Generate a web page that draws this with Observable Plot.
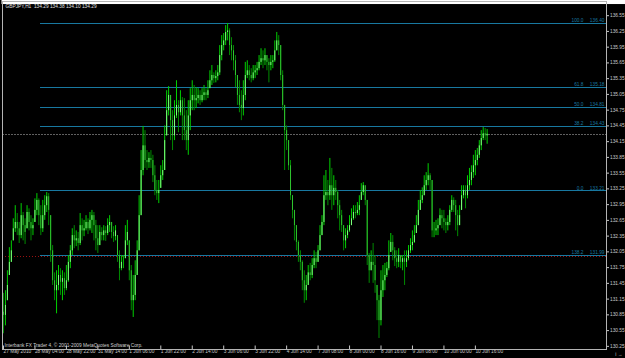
<!DOCTYPE html>
<html><head><meta charset="utf-8">
<script src="https://cdn.jsdelivr.net/npm/d3@7"></script>
<script src="https://cdn.jsdelivr.net/npm/@observablehq/plot@0.6"></script>
<style>
html,body{margin:0;padding:0;background:#000;}
#chart svg{display:block;}
</style>
</head><body><div id="chart"></div>
<script>
const symbolHeader = "GBPJPY,H1  134.29 134.38 134.10 134.29";
const copyright = "Interbank FX Trader 4, \u00a9 2001-2009 MetaQuotes Software Corp.";
const firstOpen = 130.90;
const closes = [
130.84,131.03,131.41,131.85,132.07,132.49,132.61,132.49,132.36,132.74,
132.55,132.42,132.80,132.61,132.49,132.55,132.84,133.03,132.74,132.49,
132.74,132.93,133.10,132.84,132.07,131.50,131.31,131.41,131.60,131.47,
131.54,131.35,131.50,131.85,132.07,132.36,132.26,132.30,132.21,132.55,
132.45,132.49,132.61,132.49,132.65,132.74,132.55,132.30,132.17,132.42,
132.36,132.45,132.40,132.55,132.61,132.42,132.34,132.45,131.98,131.73,
131.85,131.85,132.26,132.42,131.69,131.12,131.22,131.60,132.07,132.74,
133.60,134.07,133.79,133.75,133.83,133.79,133.50,133.22,133.16,133.22,
133.50,133.60,134.17,134.74,135.03,134.55,134.26,134.64,134.84,134.70,
134.93,134.64,134.36,134.17,134.64,134.93,135.03,134.93,134.97,135.03,
134.93,135.03,135.08,135.03,135.12,135.31,135.41,135.35,135.39,135.46,
135.79,135.98,136.07,136.23,136.26,135.98,135.88,135.69,135.41,135.03,
134.84,134.78,135.03,135.41,135.50,135.41,135.35,135.46,135.50,135.54,
135.66,135.73,135.69,135.79,135.66,135.60,135.66,135.69,135.88,136.07,
135.98,135.41,134.84,134.36,134.17,133.69,133.12,132.84,132.55,132.23,
131.98,131.85,131.50,131.31,131.41,131.65,131.60,131.79,131.92,131.85,
132.07,132.36,132.61,133.12,133.18,133.12,133.31,133.12,133.26,133.18,
132.93,132.74,132.55,132.26,132.36,132.45,132.55,132.68,132.80,132.78,
132.84,132.93,133.18,133.31,133.03,131.98,131.69,131.85,131.79,131.50,
131.12,130.74,131.31,131.50,131.60,131.73,131.98,132.23,132.07,131.92,
131.85,131.98,131.85,131.92,131.85,131.92,132.07,132.17,132.23,132.36,
132.55,132.84,133.03,133.12,133.31,133.41,133.50,133.41,132.45,132.45,
132.49,132.55,132.74,132.68,132.61,132.55,132.61,132.84,133.03,132.93,
132.74,132.55,132.74,133.12,133.22,133.12,133.31,133.41,133.56,133.69,
133.79,133.89,134.07,134.21,134.30,134.26,134.29];
const highs = [
131.26,131.31,131.69,132.13,132.26,132.68,132.93,132.78,132.61,132.97,
132.80,132.68,132.93,132.87,132.74,132.68,133.06,133.16,133.06,132.93,
133.03,133.12,133.18,133.16,132.74,132.17,131.65,131.69,131.79,131.73,
131.69,131.65,131.79,131.98,132.17,132.49,132.55,132.45,132.42,132.78,
132.68,132.65,132.74,132.68,132.80,132.84,132.80,132.65,132.55,132.55,
132.51,132.55,132.53,132.68,132.74,132.61,132.53,132.55,132.36,132.07,
131.98,131.98,132.55,132.65,132.26,131.79,131.60,131.88,132.26,133.12,
133.98,134.44,134.36,133.98,133.94,133.98,133.89,133.69,133.41,133.41,
133.69,133.79,134.45,135.12,135.20,135.03,134.74,134.93,135.31,134.93,
135.12,134.99,134.97,134.74,134.93,135.16,135.31,135.22,135.18,135.16,
135.12,135.16,135.22,135.16,135.31,135.50,135.60,135.46,135.50,135.60,
135.98,136.17,136.21,136.36,136.40,136.30,136.13,135.98,135.79,135.41,
135.31,135.12,135.31,135.66,135.69,135.60,135.54,135.60,135.60,135.66,
135.79,135.92,135.88,135.92,135.79,135.73,135.79,135.79,136.07,136.23,
136.17,135.98,135.50,134.84,134.45,134.17,133.79,133.12,132.84,132.55,
132.26,132.07,131.88,131.69,131.60,131.79,131.83,131.92,132.07,132.04,
132.17,132.55,132.74,133.50,133.60,133.41,133.83,133.64,133.50,133.41,
133.22,133.03,132.84,132.55,132.49,132.55,132.74,132.87,132.93,132.93,
132.99,133.12,133.35,133.37,133.31,133.03,132.02,132.07,132.21,131.98,
131.41,131.22,131.69,131.79,131.83,131.85,132.26,132.40,132.36,132.13,
132.07,132.11,131.98,131.98,132.07,132.07,132.17,132.30,132.45,132.55,
132.74,133.03,133.22,133.27,133.50,133.56,133.73,133.54,133.41,132.61,
132.65,132.68,132.87,132.84,132.84,132.68,132.74,132.93,133.12,133.08,
133.03,132.84,132.93,133.31,133.31,133.31,133.50,133.64,133.69,133.89,
133.98,134.02,134.17,134.36,134.42,134.40,134.38];
const lows = [
130.49,130.64,131.12,131.60,131.85,132.26,132.42,132.36,132.21,132.30,
132.26,132.19,132.49,132.45,132.26,132.36,132.61,132.74,132.55,132.36,
132.42,132.65,132.80,132.55,131.85,131.41,131.12,130.87,131.31,131.22,
131.12,131.22,131.31,131.47,131.73,131.98,132.11,132.15,132.07,132.17,
132.26,132.34,132.45,132.38,132.45,132.40,132.26,132.07,132.02,132.17,
132.26,132.26,132.25,132.36,132.42,132.30,132.23,132.26,131.85,131.50,
131.69,131.73,131.92,132.17,131.50,130.93,130.80,131.12,131.60,132.07,
132.74,133.50,133.64,133.60,133.64,133.64,133.37,133.12,133.03,132.97,
133.26,133.41,133.60,134.26,134.64,134.17,133.98,134.17,134.59,134.32,
134.64,134.17,134.17,133.98,133.89,134.36,134.74,134.74,134.78,134.87,
134.84,134.89,134.93,134.93,134.97,135.16,135.22,135.26,135.27,135.31,
135.41,135.69,135.88,135.98,136.07,135.79,135.69,135.50,135.18,134.84,
134.70,134.55,134.64,134.93,135.35,135.31,135.27,135.31,135.35,135.41,
135.50,135.60,135.54,135.60,135.50,135.27,135.50,135.54,135.66,135.88,
135.79,135.31,134.74,133.60,133.98,133.60,133.03,132.68,132.26,132.07,
131.85,131.69,131.31,131.07,131.12,131.41,131.50,131.54,131.73,131.73,
131.85,132.07,132.36,132.55,133.03,132.93,133.03,132.84,132.93,133.03,
132.68,132.45,132.42,132.07,132.11,132.30,132.42,132.55,132.65,132.68,
132.74,132.74,133.03,133.12,132.93,131.79,131.45,131.69,131.45,131.26,
130.74,130.40,130.64,131.18,131.31,131.56,131.69,132.04,131.88,131.77,
131.73,131.75,131.73,131.69,131.41,131.75,131.88,132.02,132.07,132.21,
132.40,132.55,132.84,132.97,133.12,133.22,133.31,133.22,132.32,132.32,
132.36,132.36,132.55,132.49,132.45,132.40,132.45,132.55,132.80,132.80,
132.45,132.34,132.55,132.84,133.06,132.87,133.06,133.22,133.31,133.45,
133.50,133.69,133.83,133.98,134.17,134.17,134.10];

const priceTicks = [136.55,136.25,135.95,135.65,135.35,135.05,134.75,134.45,134.15,133.85,133.55,133.25,132.95,132.65,132.35,132.05,131.75,131.45,131.15,130.85,130.55,130.25];
const timeLabels = ["27 May 2010","28 May 04:00","28 May 22:00","31 May 14:00","1 Jun 06:00","1 Jun 22:00","2 Jun 14:00","3 Jun 06:00","3 Jun 22:00","4 Jun 14:00","7 Jun 08:00","8 Jun 00:00","8 Jun 16:00","9 Jun 08:00","10 Jun 00:00","10 Jun 16:00"];
const barsPerLabel = 16;
const fibLevels = ["100.0","61.8","50.0","38.2","0.0","138.2"];
const fibPrices = [136.40,135.18,134.81,134.43,133.21,131.99];
const fibStartBar = 20;
const redLinePrice = 131.97;
const bid = 134.29;

const bars = closes.map((c, k) => {
  const h = highs[k], l = lows[k];
  const prev = k === 0 ? firstOpen : closes[k - 1];
  const o = Math.min(h, Math.max(l, prev));
  return {i: k + 1, o, h, l, c, up: c >= o};
});
const fib = fibLevels.map((lv, k) => ({lv, p: fibPrices[k], ps: fibPrices[k].toFixed(2)}));
const tickBars = timeLabels.map((_, k) => k * barsPerLabel);
const xMin = 0.51, xMax = 307.7;
const F = "Liberation Sans, Arial, sans-serif";
const fibColor = "#1878a0";
const crisp = {shapeRendering: "crispEdges"};
const FS = 4.8;

const chart = Plot.plot({
  width: 625, height: 358,
  marginTop: 1, marginBottom: 9, marginLeft: 2, marginRight: 19,
  style: {background: "#000", color: "#c8c8c8", fontFamily: F, fontSize: FS + "px"},
  x: {domain: [xMin, xMax], axis: null},
  y: {domain: [130.19, 136.82], axis: null},
  marks: [
    Plot.ruleY([redLinePrice], {x1: xMin, x2: xMax, stroke: "#9a1010", strokeDasharray: "1,2", ...crisp}),
    Plot.ruleY(fib, {y: "p", x1: fibStartBar, x2: xMax, stroke: fibColor, strokeWidth: 1, ...crisp}),
    Plot.ruleY([bid], {x1: xMin, x2: xMax, stroke: "#606060", strokeDasharray: "2,1", ...crisp}),
    Plot.ruleX(bars, {x: "i", y1: "l", y2: "h", stroke: d => d.up ? "#00d000" : "#008a00", strokeWidth: 1, clip: true}),
    Plot.ruleX(bars, {x: "i", y1: "o", y2: "c", stroke: d => d.up ? "#7dff7d" : "#2fc42f", strokeWidth: 1, clip: true}),
    Plot.text(fib, {x: xMax, y: "p", text: "lv", textAnchor: "end", dx: -23, dy: -3, fill: fibColor, fontSize: FS}),
    Plot.text(fib, {x: xMax, y: "p", text: "ps", textAnchor: "end", dx: -2, dy: -3, fill: fibColor, fontSize: FS}),
    Plot.axisY(priceTicks, {anchor: "right", tickSize: 2, tickPadding: 1.5, tickFormat: d => d.toFixed(2), fill: "#c8c8c8", stroke: "#c8c8c8", fontSize: FS}),
    Plot.axisX(tickBars, {anchor: "bottom", tickSize: 4, tickPadding: 0, tickFormat: (d, k) => timeLabels[k], textAnchor: "start", dx: 2, dy: -3.5, fill: "#c8c8c8", stroke: "#c8c8c8", fontSize: FS}),
    Plot.text([symbolHeader], {frameAnchor: "top-left", dx: 3, dy: 3.5, fill: "#e0e0e0", fontSize: FS}),
    Plot.text([copyright], {frameAnchor: "bottom-left", dx: 2, dy: -2.5, fill: "#d0d0d0", fontSize: FS}),
    Plot.text([bid], {x: xMax, y: d => d, text: d => d.toFixed(2), textAnchor: "start", dx: 2.5, fill: "#000", fontSize: FS, className: "bidlabel"}),
    Plot.frame({stroke: "#b4b4b4", ...crisp})
  ]
});
document.getElementById("chart").appendChild(chart);
// white box behind the current-price label
const t = chart.querySelector(".bidlabel text");
if (t) {
  const b = t.getBBox();
  const r = document.createElementNS("http://www.w3.org/2000/svg", "rect");
  r.setAttribute("x", b.x - 1.5); r.setAttribute("y", b.y - 1);
  r.setAttribute("width", 625 - (b.x - 1.5)); r.setAttribute("height", b.height + 2);
  r.setAttribute("fill", "#fff");
  const g = t.parentNode;
  g.insertBefore(r, g.firstChild);
}
</script>
</body></html>
